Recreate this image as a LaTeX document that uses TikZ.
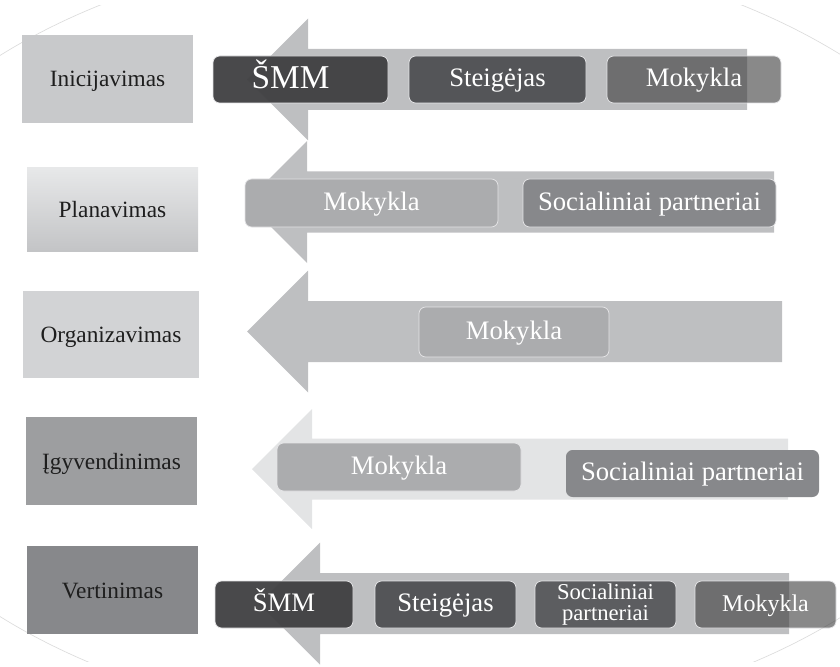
\documentclass[tikz,border=0pt]{standalone}
\usepackage{fontspec}
\setmainfont{Liberation Serif}
\definecolor{arrowc}{HTML}{BEBFC1}
\definecolor{arrowl}{HTML}{E3E4E5}
\definecolor{ringc}{HTML}{DCDCDC}
\definecolor{lab1}{HTML}{C8C9CB}
\definecolor{lab2t}{HTML}{E7E8E9}
\definecolor{lab2m}{HTML}{DFE0E1}
\definecolor{lab2b}{HTML}{C3C4C6}
\definecolor{lab3}{HTML}{D2D3D5}
\definecolor{lab4}{HTML}{9D9EA0}
\definecolor{lab5}{HTML}{87888B}
\definecolor{dk1}{HTML}{3F3F41}
\definecolor{dk2}{HTML}{545558}
\definecolor{dk3}{HTML}{5C5D60}
\definecolor{md1}{HTML}{ABACAE}
\definecolor{md2}{HTML}{87888B}
\definecolor{edgec}{HTML}{E4E4E6}
\definecolor{labtxt}{HTML}{1E1E1E}
\newcommand\boxnode[7]{\node[#1, minimum width={(#4-#2)*0.75pt}, minimum height={(#5-#3)*0.75pt}] (#6) at ({(#2+#4)/2},{(#3+#5)/2}) {#7};}
\newcommand\bigarrow[6]{% tip, base, end, cy, color, half-head
  \fill[#5] (#1,#4) -- (#2,#4-#6) -- (#2,#4-30.5) -- (#3,#4-30.5) -- (#3,#4+30.5) -- (#2,#4+30.5) -- (#2,#4+#6) -- cycle;}
\begin{document}
\begin{tikzpicture}[x=0.75pt,y=-0.75pt,
  lab/.style={rectangle, inner sep=0pt, text=labtxt, text height=15pt, text depth=3pt, font=\fontsize{17.5pt}{20pt}\selectfont},
  rbox/.style={rectangle, rounded corners=5pt, inner sep=0pt, draw=edgec, line width=0.6pt, text=white, text height=15pt, text depth=3.8pt, font=\fontsize{20pt}{22pt}\selectfont},
  sbox/.style={rectangle, rounded corners=5pt, inner sep=0pt, draw=edgec, line width=0.6pt, text=white, font=\fontsize{17pt}{16pt}\selectfont, align=center},
  glass/.style={fill=black!79, fill opacity=0.59, text opacity=1, draw opacity=1}]
\useasboundingbox (0,0) rectangle (840,667);
\begin{scope}
  \clip (0,6) rectangle (840,661);
  \draw[ringc, line width=0.5pt] (421,336) ellipse [x radius=454.5pt, y radius=292.5pt];
\end{scope}
% arrows
\bigarrow{247}{308}{747}{79.5}{arrowc}{61}
\bigarrow{246}{307}{774}{202}{arrowc}{61}
\bigarrow{247}{308}{782}{331.5}{arrowc}{61}
\bigarrow{252}{312}{788}{469}{arrowl}{60}
\bigarrow{259}{320}{789}{603.5}{arrowc}{61}
% stage labels
\boxnode{lab, fill=lab1}{22}{35}{193}{123}{l1}{Inicijavimas}
\boxnode{lab, top color=lab2t, middle color=lab2m, bottom color=lab2b}{27}{168}{198}{251}{l2}{Planavimas}
\boxnode{lab, fill=lab3}{23}{291}{199}{378}{l3}{Organizavimas}
\boxnode{lab, fill=lab4}{26}{417}{197}{505}{l4}{Įgyvendinimas}
\boxnode{lab, fill=lab5}{27}{546}{198}{634}{l5}{Vertinimas}
% row 1
\boxnode{rbox, fill=dk1, fill opacity=0.95, text opacity=1, draw opacity=1, font=\fontsize{25pt}{27pt}\selectfont, text height=17pt, text depth=4pt}{213}{56}{388}{103}{a1}{\hspace*{-15pt}ŠMM}
\boxnode{rbox, fill=dk2}{409}{56}{586}{103}{a2}{Steigėjas}
\boxnode{rbox, glass}{607}{56}{781}{103}{a3}{Mokykla}
% row 2
\boxnode{rbox, fill=md1}{245}{179}{498}{227}{b1}{Mokykla}
\boxnode{rbox, fill=md2}{523}{179}{776}{227}{b2}{Socialiniai partneriai}
% row 3
\boxnode{rbox, fill=md1}{419}{307}{609}{357}{c1}{Mokykla}
% row 4
\boxnode{rbox, fill=md1}{277}{443}{521}{491}{d1}{Mokykla}
\boxnode{rbox, fill=md2, draw=none}{566}{450}{819}{497}{d2}{Socialiniai partneriai}
% row 5
\boxnode{rbox, fill=dk1, fill opacity=0.95, text opacity=1, draw opacity=1}{215}{581}{353}{628}{e1}{ŠMM}
\boxnode{rbox, fill=dk2}{375}{581}{516}{628}{e2}{Steigėjas}
\boxnode{sbox, fill=dk3}{535}{581}{676}{628}{e3}{Socialiniai\\partneriai}
\boxnode{rbox, glass, font=\fontsize{18pt}{20pt}\selectfont}{695}{581}{836}{628}{e4}{Mokykla}
\end{tikzpicture}
\end{document}
